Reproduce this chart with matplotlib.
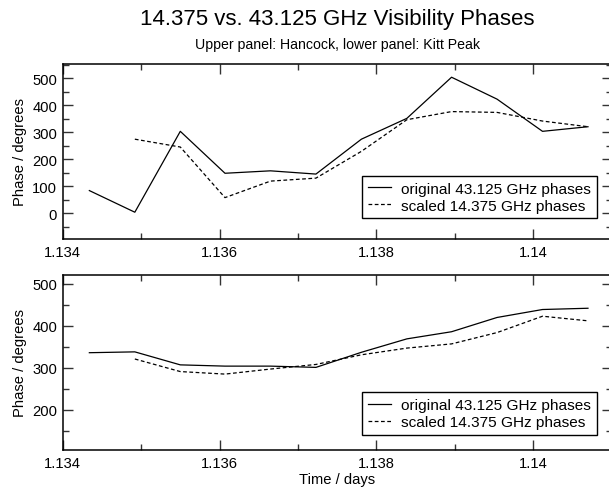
import matplotlib
matplotlib.use("Agg")
import matplotlib.pyplot as plt
from matplotlib.ticker import MultipleLocator, FuncFormatter

plt.rcParams['font.family'] = ['Liberation Sans', 'DejaVu Sans']

# scan times (days)
time_days = [1.13434, 1.13492, 1.13550, 1.13607, 1.13665, 1.13723,
             1.13781, 1.13839, 1.13896, 1.13954, 1.14012, 1.14070]

# upper panel: Hancock
hn_orig = [84, 4, 303, 148, 157, 145, 274, 351, 503, 422, 303, 320]
hn_scaled = [None, 274, 245, 58, 119, 130, 229, 346, 376, 373, 341, 320]

# lower panel: Kitt Peak
kp_orig = [336, 338, 307, 304, 304, 301, 337, 369, 386, 420, 439, 442]
kp_scaled = [None, 321, 291, 285, 297, 308, 331, 347, 357, 384, 423, 412]

lbl_orig = 'original 43.125 GHz phases'
lbl_scaled = 'scaled 14.375 GHz phases'

W, H = 609, 489
fig = plt.figure(figsize=(W / 100, H / 100), dpi=100)

def px_axes(left, top, right, bottom):
    return fig.add_axes([left / W, 1 - bottom / H, (right - left) / W, (bottom - top) / H])

ax1 = px_axes(62.7, 64.7, 611.5, 240)
ax2 = px_axes(62.7, 275.7, 611.5, 451)

def xfmt(v, pos):
    return '%g' % round(v, 4)

def style(ax):
    ax.set_xlim(1.134, 1.141)
    ax.xaxis.set_major_locator(MultipleLocator(0.002))
    ax.xaxis.set_minor_locator(MultipleLocator(0.001))
    ax.xaxis.set_major_formatter(FuncFormatter(xfmt))
    ax.yaxis.set_major_locator(MultipleLocator(100))
    ax.yaxis.set_minor_locator(MultipleLocator(50))
    ax.tick_params(which='both', direction='in', top=True, right=True,
                   labelsize=10.6, width=1.0, color='#333333')
    ax.tick_params(which='major', length=7.5, pad=4)
    ax.tick_params(which='minor', length=4)
    ax.set_ylabel('Phase / degrees', fontsize=10.6, labelpad=4)
    for s in ax.spines.values():
        s.set_linewidth(1.1)

def split(xs, ys):
    pts = [(x, y) for x, y in zip(xs, ys) if y is not None]
    return [p[0] for p in pts], [p[1] for p in pts]

for ax, orig, scaled, ylim, leg_y in [(ax1, hn_orig, hn_scaled, (-95, 553), 0.118),
                                      (ax2, kp_orig, kp_scaled, (104, 522), 0.087)]:
    ax.plot(time_days, orig, color='black', lw=0.9, label=lbl_orig)
    sx, sy = split(time_days, scaled)
    ax.plot(sx, sy, color='black', lw=0.9, linestyle=(0, (3, 2)), label=lbl_scaled)
    ax.set_ylim(*ylim)
    style(ax)
    leg = ax.legend(loc='lower right', bbox_to_anchor=(0.9736, leg_y), fontsize=11.1,
                    frameon=True, fancybox=False, edgecolor='black', framealpha=1,
                    borderaxespad=0, handlelength=1.47, handletextpad=0.7,
                    labelspacing=0.2, borderpad=0.37)
    leg.get_frame().set_linewidth(1.0)

ax2.set_xlabel('Time / days', fontsize=10.6, labelpad=2)

cx = (62.7 + 611.5) / 2 / W
fig.text(cx, 1 - 20 / H, '14.375 vs. 43.125 GHz Visibility Phases',
         ha='center', va='center', fontsize=16)
fig.text(cx, 1 - 45 / H, 'Upper panel: Hancock, lower panel: Kitt Peak',
         ha='center', va='center', fontsize=10.2)

fig.savefig('out.png', dpi=100)
